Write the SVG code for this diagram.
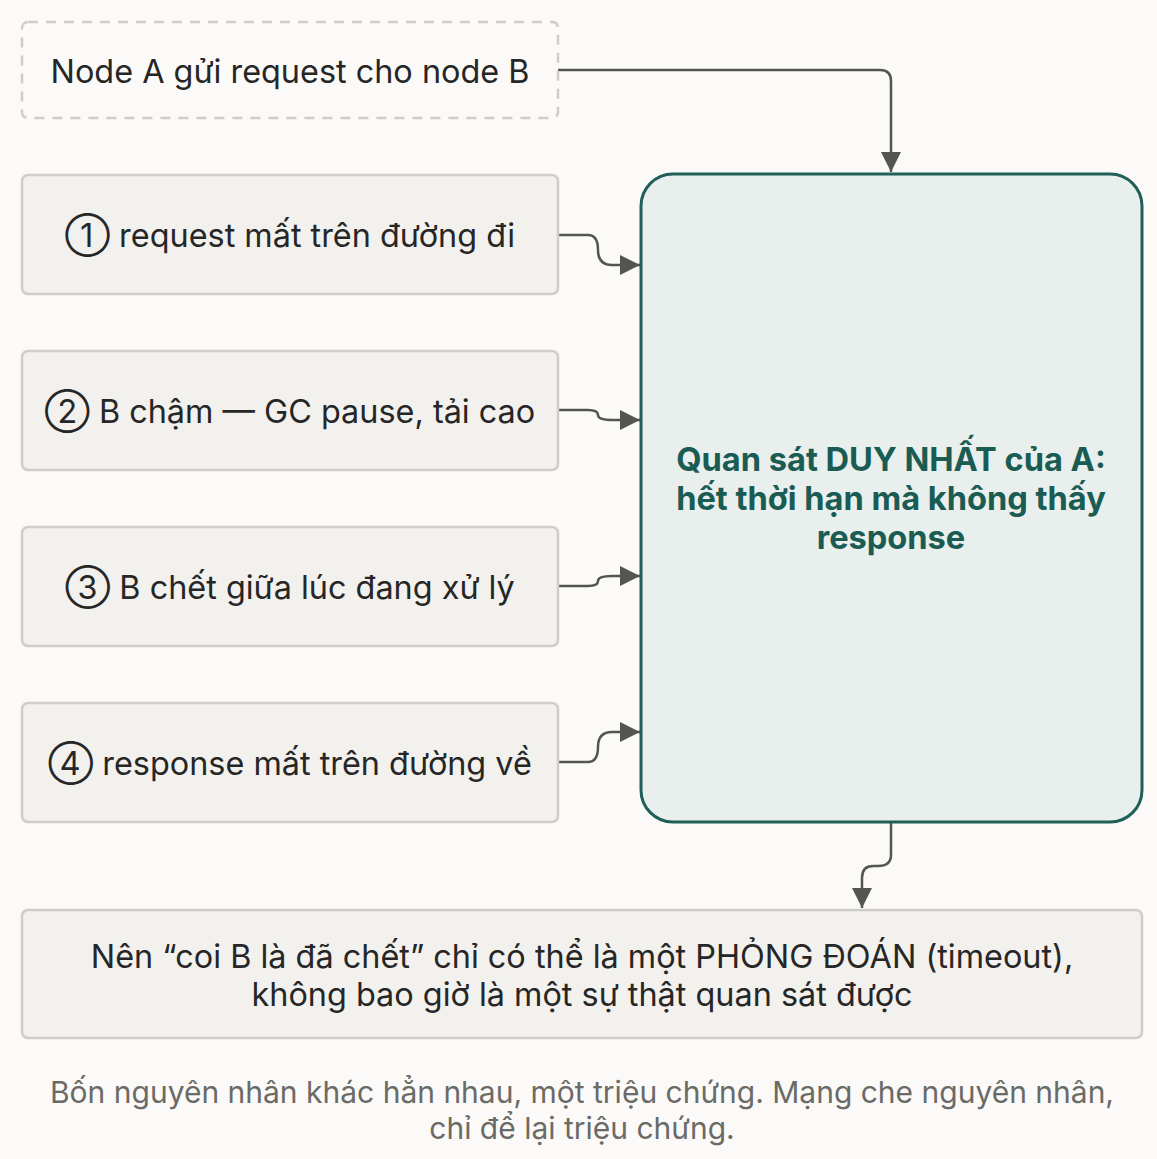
<svg xmlns="http://www.w3.org/2000/svg" width="1157" height="1159" viewBox="0 0 1157 1159">
<style>
.b{fill:#f2f1ee;stroke:#cfcdc8;stroke-width:2.5}
.t{font-family:Inter,"Noto Sans",sans-serif;font-size:32.4px;fill:#262626;text-anchor:middle}
.c{fill:none;stroke:#55554f;stroke-width:2.5}
</style>
<defs>
<marker id="m" viewBox="0 0 10 10" refX="10" refY="5" markerWidth="20" markerHeight="20" orient="auto" markerUnits="userSpaceOnUse"><path d="M0,0L10,5L0,10z" fill="#55554f"/></marker></defs>
<rect width="1157" height="1159" fill="#fbfaf8"/>
<g id="connectors">
<path class="c" d="M558,70H880Q891,70 891,81V172" marker-end="url(#m)"/>
<path class="c" d="M558,235H588Q598,235 598,250Q598,265 612,265H640" marker-end="url(#m)"/>
<path class="c" d="M558,410H588Q598,410 598,415Q598,420 612,420H640" marker-end="url(#m)"/>
<path class="c" d="M558,586H588Q598,586 598,581Q598,576 612,576H640" marker-end="url(#m)"/>
<path class="c" d="M558,762H588Q598,762 598,747Q598,732 612,732H640" marker-end="url(#m)"/>
<path class="c" d="M891,822V855Q891,866 878,866H873Q862,866 862,878V908" marker-end="url(#m)"/>
</g>
<g id="start"><rect x="22" y="22" width="536" height="96" rx="6" fill="#fbfaf8" stroke="#cfcdc8" stroke-width="2.5" stroke-dasharray="10,8"/><text class="t" x="290" y="83">Node A gửi request cho node B</text></g>
<g id="n1"><rect class="b" x="22" y="175" width="536" height="119" rx="6"/><text class="t" x="290" y="247">① request mất trên đường đi</text></g>
<g id="n2"><rect class="b" x="22" y="351" width="536" height="119" rx="6"/><text class="t" x="290" y="423">② B chậm — GC pause, tải cao</text></g>
<g id="n3"><rect class="b" x="22" y="527" width="536" height="119" rx="6"/><text class="t" x="290" y="599">③ B chết giữa lúc đang xử lý</text></g>
<g id="n4"><rect class="b" x="22" y="703" width="536" height="119" rx="6"/><text class="t" x="290" y="775">④ response mất trên đường về</text></g>
<g id="obs"><rect x="641" y="174" width="501" height="648" rx="32" fill="#e8efec" stroke="#1f5f58" stroke-width="3"/>
<text class="t" style="fill:#1a5c54;font-weight:700;font-size:32.6px" x="891" y="471">Quan sát DUY NHẤT của A:</text>
<text class="t" style="fill:#1a5c54;font-weight:700;font-size:32.6px" x="891" y="510">hết thời hạn mà không thấy</text>
<text class="t" style="fill:#1a5c54;font-weight:700;font-size:32.6px" x="891" y="549">response</text></g>
<g id="concl"><rect class="b" x="22" y="910" width="1120" height="128" rx="6"/>
<text class="t" x="582" y="968">Nên “coi B là đã chết” chỉ có thể là một PHỎNG ĐOÁN (timeout),</text>
<text class="t" x="582" y="1006">không bao giờ là một sự thật quan sát được</text></g>
<g id="caption"><text class="t" style="fill:#6a6a66;font-size:30px" x="582" y="1103">Bốn nguyên nhân khác hẳn nhau, một triệu chứng. Mạng che nguyên nhân,</text>
<text class="t" style="fill:#6a6a66;font-size:30px" x="582" y="1139">chỉ để lại triệu chứng.</text></g>
</svg>
